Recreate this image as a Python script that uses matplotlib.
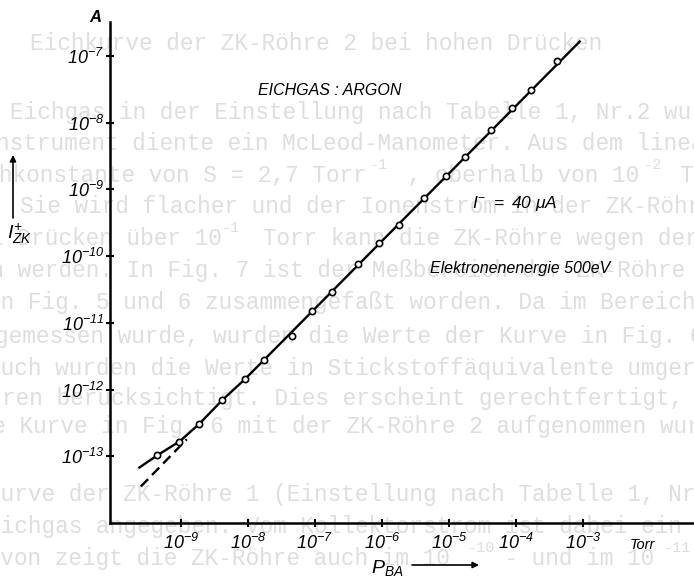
import matplotlib
matplotlib.use('Agg')
import matplotlib.pyplot as plt

# Messpunkte: Druck p_BA in Torr, Ionenstrom I_ZK in A
p_ba = [4.34e-10, 9.5e-10, 1.875e-9, 4.09e-9, 9.0e-9, 1.75e-8, 4.49e-8, 8.93e-8,
        1.77e-7, 4.34e-7, 9.12e-7, 1.81e-6, 4.28e-6, 8.93e-6, 1.75e-5, 4.28e-5,
        8.63e-5, 1.67e-4, 4.13e-4]
i_zk = [1.035e-13, 1.66e-13, 3.09e-13, 6.98e-13, 1.43e-12, 2.75e-12, 6.37e-12, 1.51e-11,
        2.90e-11, 7.57e-11, 1.60e-10, 2.90e-10, 7.38e-10, 1.59e-9, 3.11e-9, 7.85e-9,
        1.65e-8, 3.07e-8, 8.45e-8]

# Ausgleichskurve (durchgezogen)
kurve_p = [2.39e-10, 4.4e-10, 9.6e-10, 1.9e-9, 4.1e-9, 9.0e-9, 9.0e-4]
kurve_i = [6.78e-14, 1.03e-13, 1.68e-13, 3.1e-13, 6.9e-13, 1.43e-12, 1.65e-7]

# lineare Extrapolation (gestrichelt)
extra_p = [2.51e-10, 1.22e-9]
extra_i = [3.52e-14, 1.80e-13]

x_exp = [-9, -8, -7, -6, -5, -4, -3]
y_exp = [-13, -12, -11, -10, -9, -8, -7]

W, H = 694, 588

# durchscheinender Text der Rueckseite
rueckseite = [
    (30, 43, "Eichkurve der ZK-Röhre 2 bei hohen Drücken"),
    (10, 112, "Eichgas in der Einstellung nach Tabelle 1, Nr.2 wurde"),
    (-113, 143, "Als Meßinstrument diente ein McLeod-Manometer. Aus dem linearen"),
    (-42, 175, "Eichkonstante von S = 2,7 Torr   , oberhalb von 10   Torr"),
    (20, 206, "Sie wird flacher und der Ionenstrom in der ZK-Röhre"),
    (-37, 238, "bei Drücken über 10   Torr kann die ZK-Röhre wegen der"),
    (-105, 270, "genommen werden. In Fig. 7 ist der Meßbereich der ZK-Röhre"),
    (-13, 302, "in Fig. 5 und 6 zusammengefaßt worden. Da im Bereich"),
    (-5, 336, "gemessen wurde, wurden die Werte der Kurve in Fig. 6"),
    (-13, 368, "auch wurden die Werte in Stickstoffäquivalente umgerechnet"),
    (2, 398, "ren berücksichtigt. Dies erscheint gerechtfertigt, da"),
    (-35, 427, "die Kurve in Fig. 6 mit der ZK-Röhre 2 aufgenommen wurde"),
    (-13, 495, "Kurve der ZK-Röhre 1 (Einstellung nach Tabelle 1, Nr.1)"),
    (-13, 527, "Eichgas angegeben. Vom Kollektorstrom ist dabei ein"),
    (-27, 558, "Davon zeigt die ZK-Röhre auch im 10    - und im 10    -Torr"),
]
hochgestellt = [(369, 165, "-1"), (643, 165, "-2"), (222, 228, "-1"),
                (468, 548, "-10"), (663, 548, "-11")]


def fx(x):
    return x / W


def fy(y):
    return 1 - y / H


plt.rcParams['mathtext.fontset'] = 'custom'
plt.rcParams['mathtext.rm'] = 'Liberation Sans:italic'
plt.rcParams['mathtext.it'] = 'Liberation Sans:italic'
plt.rcParams['mathtext.bf'] = 'Liberation Sans:bold:italic'

fig = plt.figure(figsize=(W / 100, H / 100), dpi=100)

for x, y, s in rueckseite:
    fig.text(fx(x), fy(y), s, family='Liberation Mono', fontsize=16.4,
             color='#dedede', ha='left', va='center', zorder=-5)
for x, y, s in hochgestellt:
    fig.text(fx(x), fy(y), s, family='Liberation Mono', fontsize=11,
             color='#dedede', ha='left', va='center', zorder=-5)

ax = fig.add_axes([fx(110), 65 / H, (W - 110) / W, 501 / H])
ax.patch.set_alpha(0)

ax.plot(kurve_p, kurve_i, color='black', lw=1.7, zorder=2)
ax.plot(extra_p, extra_i, color='black', lw=1.7, dashes=(4.4, 2.4), zorder=2)
ax.plot(p_ba, i_zk, 'o', ms=4.5, mfc='white', mec='black', mew=1.2, zorder=3)

ax.set_xscale('log')
ax.set_yscale('log')
ax.set_xlim(10 ** -10.06, 10 ** -1.34)
ax.set_ylim(1e-14, 10 ** -6.49)

ax.set_xticks([10.0 ** e for e in x_exp])
ax.set_xticklabels([r'$10^{%d}$' % e for e in x_exp])
ax.set_yticks([10.0 ** e for e in y_exp])
ax.set_yticklabels([r'$10^{%d}$' % e for e in y_exp])
ax.minorticks_off()

for side in ['top', 'right']:
    ax.spines[side].set_visible(False)
for side in ['left', 'bottom']:
    ax.spines[side].set_linewidth(1.8)
ax.tick_params(direction='inout', length=6, width=1.5, labelsize=13)
ax.tick_params(axis='y', pad=1)
ax.tick_params(axis='x', pad=4)

kursiv = dict(style='italic', family='Liberation Sans', color='black')
fig.text(fx(95), fy(18), 'A', fontsize=12, weight='bold', ha='center', va='center', **kursiv)
fig.text(fx(258), fy(90), 'EICHGAS : ARGON', fontsize=11.5, ha='left', va='center', **kursiv)
fig.text(fx(472), fy(204), r'$I^{-}\ =\ 40\ \mu A$', fontsize=12.5, ha='left', va='center')
fig.text(fx(430), fy(268), 'Elektronenenergie 500eV', fontsize=11.5, ha='left', va='center', **kursiv)
fig.text(fx(630), fy(545), 'Torr', fontsize=10.5, ha='left', va='center', **kursiv)
fig.text(fx(371), fy(568), r'$P_{BA}$', fontsize=14, ha='left', va='center')
fig.text(fx(7), fy(234), r'$I^{+}_{ZK}$', fontsize=14, ha='left', va='center')

pfeil = dict(arrowstyle='-|>', lw=1.2, color='black', mutation_scale=9,
             shrinkA=0, shrinkB=0)
ax.annotate('', xy=(fx(479), fy(565)), xytext=(fx(412), fy(565)),
            xycoords='figure fraction', textcoords='figure fraction',
            arrowprops=pfeil, annotation_clip=False)
ax.annotate('', xy=(fx(13), fy(155)), xytext=(fx(13), fy(218)),
            xycoords='figure fraction', textcoords='figure fraction',
            arrowprops=pfeil, annotation_clip=False)

plt.savefig('out.png', dpi=100)
